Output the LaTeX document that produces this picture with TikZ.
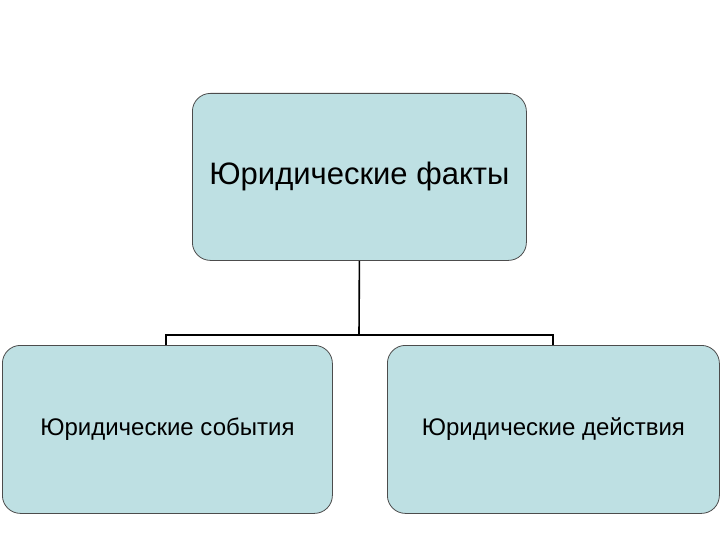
\documentclass[tikz,border=0pt]{standalone}
\usepackage{fontspec}
\setmainfont{Liberation Sans}
\begin{document}
\begin{tikzpicture}[x=1pt,y=-1pt,
 box/.style={draw=black!70,line width=0.8pt,fill={rgb,255:red,190;green,224;blue,227},rounded corners=18pt,anchor=north west,inner sep=0pt},
 conn/.style={draw=black,line width=1.6pt}]
\useasboundingbox (0,0) rectangle (720,540);
\node[box,minimum width=334pt,minimum height=167pt] (top) at (192,93) {};
\node[font=\fontsize{31}{36}\selectfont] (toplbl) at (top.center) {Юридические факты};
\node[box,minimum width=330pt,minimum height=168pt] (left) at (2,345) {};
\node[font=\fontsize{24}{28}\selectfont] (leftlbl) at (left.center) {Юридические события};
\node[box,minimum width=332pt,minimum height=168pt] (right) at (387,345) {};
\node[font=\fontsize{24}{28}\selectfont] (rightlbl) at (right.center) {Юридические действия};
\coordinate (j) at (359,335);
\coordinate (jl) at (166,335);
\coordinate (jr) at (553,335);
\draw[conn] (top.south) -- (j);
\draw[conn] (jl|-left.north) -- (jl) -- (jr) -- (jr|-right.north);
\end{tikzpicture}
\end{document}
